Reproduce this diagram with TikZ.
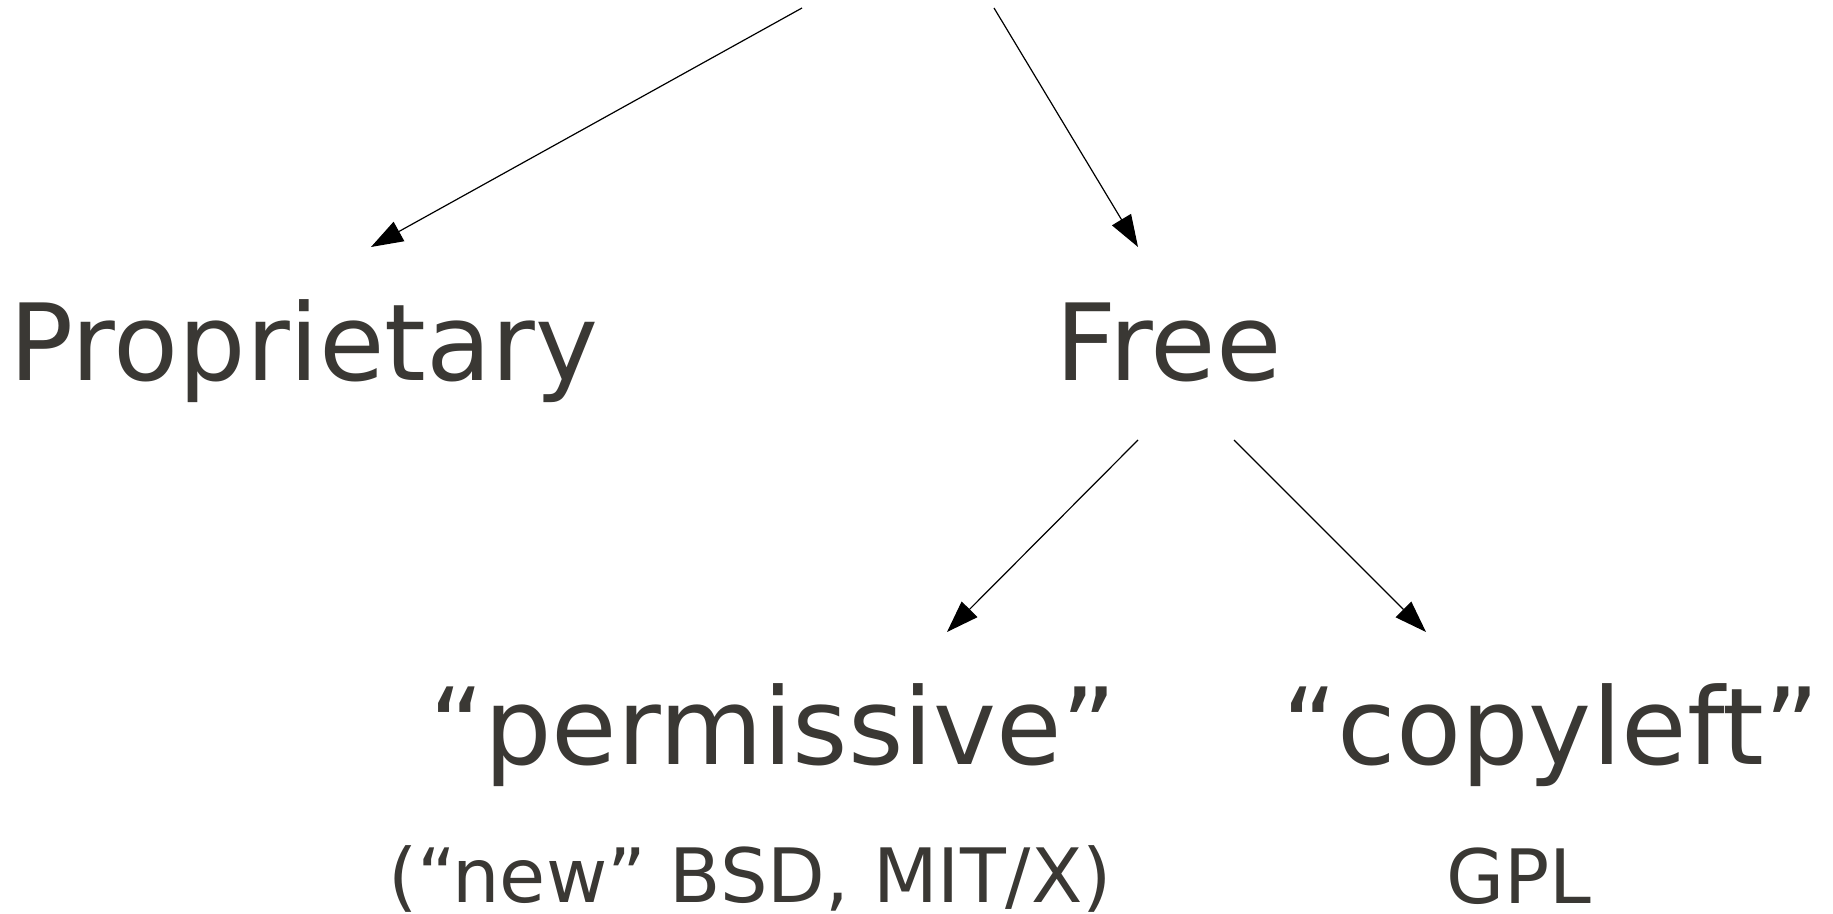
\documentclass[tikz,border=0pt]{standalone}
\usepackage{fontspec}
\setmainfont{DejaVu Sans}
\usetikzlibrary{arrows.meta}
\definecolor{txt}{RGB}{58,56,52}
\begin{document}
\begin{tikzpicture}[x=1pt,y=1pt,
  big/.style={inner sep=0pt, anchor=base, text=txt, font=\fontsize{106.5}{106.5}\selectfont},
  small/.style={inner sep=0pt, anchor=base, text=txt, font=\fontsize{75}{75}\selectfont},
  link/.style={draw=black, line width=1.2pt, -{Triangle[length=32pt,width=22pt]}}]
\useasboundingbox (0,0) rectangle (1833,913);
\fill[white] (0,0) rectangle (1833,913);
% text nodes (baselines measured from top: y_tikz = 913 - y_px)
\node[big] (prop) at (304,532) {Proprietary};
\node[big] (free) at (1168.5,532) {Free};
\node[big] (perm) at (773,149) {“permissive”};
\node[big] (copy) at (1551,149) {“copyleft”};
\node[small] (bsd) at (750,11) {(“new” BSD, MIT/X)};
\node[small] (gpl) at (1519,10) {GPL};
% connector ends
\coordinate (s1) at (802,905);
\coordinate (t1) at (371,666);
\coordinate (s2) at (994,905);
\coordinate (t2) at (1138,666);
\coordinate (s3) at (1138,473);
\coordinate (t3) at (947,281);
\coordinate (s4) at (1234,473);
\coordinate (t4) at (1426,281);
\draw[link] (s1) -- (t1);
\draw[link] (s2) -- (t2);
\draw[link] (s3) -- (t3);
\draw[link] (s4) -- (t4);
\end{tikzpicture}
\end{document}
